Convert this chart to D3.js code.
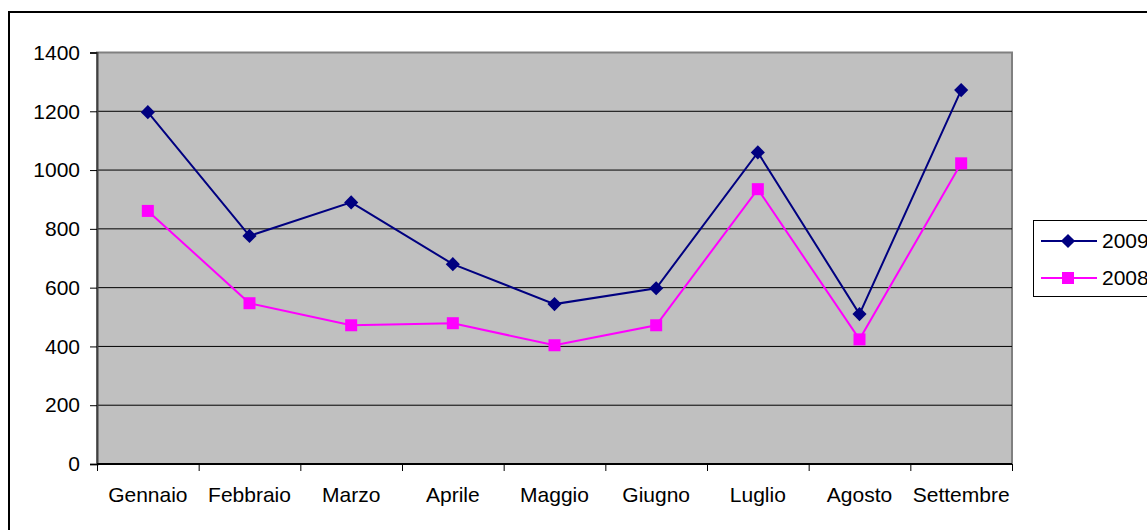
<!DOCTYPE html>
<html>
<head>
<meta charset="utf-8">
<script src="https://cdn.jsdelivr.net/npm/d3@7"></script>
<style>
  body { margin: 0; background: #fff; }
  svg { display: block; font-family: "Liberation Sans", Arial, sans-serif; }
</style>
</head>
<body>
<div id="chart"></div>
<script>
// data
const months = ["Gennaio", "Febbraio", "Marzo", "Aprile", "Maggio", "Giugno", "Luglio", "Agosto", "Settembre"];
const values2009 = [1197, 776, 890, 680, 544, 598, 1060, 510, 1272];
const values2008 = [861, 547, 472, 479, 404, 472, 935, 424, 1023];
const yTicks = [0, 200, 400, 600, 800, 1000, 1200, 1400];

const w = 1147;
const h = 530;
const padL = 97, padR = 1012, padT = 52.5, padB = 464;
const fontSize = 21;

const svg = d3.select("#chart")
              .append("svg")
              .attr("width", w)
              .attr("height", h);

// outer chart border
svg.append("rect")
   .attr("x", 9)
   .attr("y", 12)
   .attr("width", w + 20)
   .attr("height", h + 20)
   .attr("fill", "none")
   .attr("stroke", "#000")
   .attr("stroke-width", 2);

// scales
const xScale = d3.scaleBand()
  .domain(months)
  .range([padL, padR])
  .padding(0);

const xEdge = d3.scaleLinear()
  .domain([0, months.length])
  .range([padL, padR]);

const yScale = d3.scaleLinear()
  .domain([0, 1400])
  .range([padB, padT]);

const cx = (d, i) => xScale(months[i]) + xScale.bandwidth() / 2;

// plot area
svg.append("rect")
   .attr("x", padL)
   .attr("y", padT)
   .attr("width", padR - padL)
   .attr("height", padB - padT)
   .attr("fill", "#c0c0c0")
   .attr("stroke", "#808080")
   .attr("stroke-width", 2);

// gridlines
svg.append("g")
   .selectAll("line")
   .data(yTicks.filter(t => t > 0 && t < 1400))
   .enter()
   .append("line")
   .attr("x1", padL)
   .attr("x2", padR)
   .attr("y1", d => yScale(d))
   .attr("y2", d => yScale(d))
   .attr("stroke", "#000")
   .attr("stroke-width", 1);

// y axis
const yAxis = d3.axisLeft(yScale)
  .tickValues(yTicks)
  .tickFormat(d3.format("d"))
  .tickSize(7)
  .tickPadding(10);

const gy = svg.append("g")
   .attr("transform", "translate(" + padL + ",0)")
   .call(yAxis);
gy.select(".domain").attr("stroke", "#404040").attr("stroke-width", 2);
gy.selectAll(".tick line").attr("stroke", "#000");
gy.selectAll("text")
  .attr("font-size", fontSize)
  .attr("font-family", "'Liberation Sans', Arial, sans-serif")
  .attr("fill", "#000");

// x axis: ticks at category edges
const xTickAxis = d3.axisBottom(xEdge)
  .tickValues(d3.range(0, months.length + 1))
  .tickSize(7)
  .tickFormat("");

const gx = svg.append("g")
   .attr("transform", "translate(0," + padB + ")")
   .call(xTickAxis);
gx.select(".domain").attr("stroke", "#000").attr("stroke-width", 2).attr("d", "M" + padL + ",0H" + padR);
gx.selectAll(".tick line").attr("stroke", "#000");

// x labels
const xLabelAxis = d3.axisBottom(xScale)
  .tickSize(0)
  .tickPadding(23);

const gxl = svg.append("g")
   .attr("transform", "translate(0," + padB + ")")
   .call(xLabelAxis);
gxl.select(".domain").remove();
gxl.selectAll("text")
   .attr("font-size", fontSize)
   .attr("font-family", "'Liberation Sans', Arial, sans-serif")
   .attr("fill", "#000");

// lines
const line = d3.line()
  .x(cx)
  .y(d => yScale(d));

svg.append("path")
   .datum(values2008)
   .attr("fill", "none")
   .attr("stroke", "#ff00ff")
   .attr("stroke-width", 2)
   .attr("d", line);

svg.append("path")
   .datum(values2009)
   .attr("fill", "none")
   .attr("stroke", "#000080")
   .attr("stroke-width", 2)
   .attr("d", line);

// markers
const diamond = d3.symbol().type(d3.symbolSquare).size(100);

svg.append("g")
   .selectAll("rect")
   .data(values2008)
   .enter()
   .append("rect")
   .attr("x", (d, i) => cx(d, i) - 6)
   .attr("y", d => yScale(d) - 6)
   .attr("width", 12)
   .attr("height", 12)
   .attr("fill", "#ff00ff");

svg.append("g")
   .selectAll("path")
   .data(values2009)
   .enter()
   .append("path")
   .attr("d", diamond)
   .attr("transform", (d, i) => "translate(" + cx(d, i) + "," + yScale(d) + ") rotate(45)")
   .attr("fill", "#000080");

// legend
const lg = svg.append("g");
lg.append("rect")
  .attr("x", 1033.5)
  .attr("y", 220.5)
  .attr("width", 200)
  .attr("height", 76)
  .attr("fill", "#fff")
  .attr("stroke", "#000")
  .attr("stroke-width", 1);

function legendItem(y, color, text, marker) {
  lg.append("line")
    .attr("x1", 1041)
    .attr("x2", 1097)
    .attr("y1", y)
    .attr("y2", y)
    .attr("stroke", color)
    .attr("stroke-width", 2);
  if (marker == "diamond") {
    lg.append("path")
      .attr("d", diamond)
      .attr("transform", "translate(1068," + y + ") rotate(45)")
      .attr("fill", color);
  } else {
    lg.append("rect")
      .attr("x", 1062)
      .attr("y", y - 6)
      .attr("width", 12)
      .attr("height", 12)
      .attr("fill", color);
  }
  lg.append("text")
    .attr("x", 1102)
    .attr("y", y)
    .attr("dy", "0.35em")
    .attr("font-size", fontSize)
    .attr("fill", "#000")
    .text(text);
}

legendItem(241, "#000080", "2009", "diamond");
legendItem(278, "#ff00ff", "2008", "square");
</script>
</body>
</html>
